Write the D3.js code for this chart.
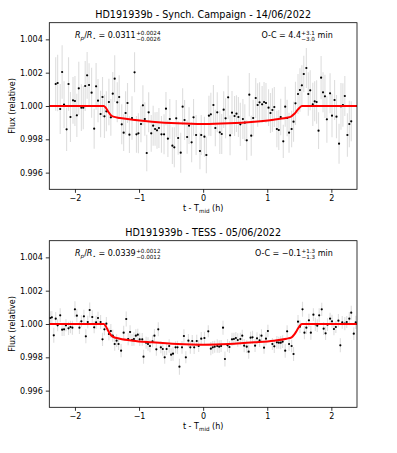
<!DOCTYPE html>
<html>
<head>
<meta charset="utf-8">
<script src="https://cdn.jsdelivr.net/npm/d3@7"></script>
<style>
  html, body { margin: 0; padding: 0; background: #fff; }
  svg { display: block; }
  text { font-family: "DejaVu Sans", sans-serif; fill: #000; }
</style>
</head>
<body>
<svg id="chart" width="397" height="453"></svg>
<script>
// ---------------- DATA ----------------
const xTicks = [-2, -1, 0, 1, 2];
const yTicks = [0.996, 0.998, 1.000, 1.002, 1.004];

// Panel 1: Synch. Campaign
const timeTop = [
  -2.30,-2.27,-2.23,-2.20,-2.17,-2.13,-2.10,-2.07,-2.03,-2.00,
  -1.97,-1.94,-1.90,-1.87,-1.84,-1.81,-1.78,-1.74,-1.70,-1.67,
  -1.64,-1.60,-1.57,-1.54,-1.51,-1.47,-1.44,-1.41,-1.38,-1.34,
  -1.31,-1.27,-1.24,-1.21,-1.18,-1.15,-1.11,-1.07,-1.04,-1.01,
  -0.97,-0.94,-0.91,-0.88,-0.85,-0.81,-0.78,-0.75,-0.72,-0.69,
  -0.65,-0.61,-0.58,-0.55,-0.52,-0.48,-0.45,-0.42,-0.39,-0.35,
  -0.32,-0.29,-0.25,-0.22,-0.18,-0.15,-0.11,-0.05,-0.03,
  0.02,0.05,0.09,0.12,0.16,0.19,0.22,0.26,0.29,0.32,
  0.35,0.39,0.42,0.45,0.49,0.52,0.55,0.58,0.62,0.65,
  0.68,0.72,0.75,0.78,0.82,0.85,0.88,0.92,0.95,0.98,
  1.02,1.05,1.08,1.11,1.15,1.18,1.21,1.25,1.28,1.31,
  1.34,1.38,1.41,1.44,1.48,1.51,1.54,1.57,1.61,1.64,
  1.67,1.71,1.74,1.77,1.80,1.84,1.87,1.90,1.93,1.98,
  2.01,2.05,2.08,2.12,2.15,2.18,2.21,2.25,2.28,2.31
];
const fluxTop = [
  1.00132,1.00138,0.99982,1.00204,1.00008,0.99860,1.00132,0.99934,1.00034,1.00030,
  0.99944,1.00106,0.99990,0.99990,1.00120,1.00184,1.00126,1.00080,0.99864,1.00118,
  1.00032,0.99952,1.00054,0.99938,0.99968,1.00024,0.99932,1.00074,1.00164,1.00022,
  1.00054,0.99890,0.99840,0.99958,1.00018,0.99828,0.99928,1.00202,0.99830,0.99836,
  0.99892,1.00004,0.99922,0.99718,0.99962,0.99836,0.99882,0.99862,0.99854,0.99868,
  0.99830,0.99830,0.99984,0.99804,0.99922,0.99762,0.99752,0.99926,0.99808,0.99720,
  0.99996,0.99916,0.99814,0.99882,0.99782,0.99932,0.99826,0.99730,0.99826,
  0.99816,0.99706,0.99942,0.99950,1.00006,0.99868,0.99962,0.99842,0.99832,0.99978,
  0.99926,1.00052,0.99824,0.99960,0.99940,0.99954,0.99934,0.99890,0.99922,0.99900,
  0.99794,1.00068,0.99822,0.99928,1.00048,1.00006,1.00022,1.00010,1.00024,1.00018,
  0.99990,0.99958,0.99976,0.99994,0.99862,0.99856,0.99934,0.99788,0.99996,0.99928,
  0.99840,0.99862,0.99906,1.00016,1.00072,1.00096,1.00124,1.00192,1.00228,1.00072,
  1.00094,1.00010,1.00028,1.00024,0.99852,1.00170,1.00082,1.00058,0.99920,1.00076,
  0.99942,1.00036,0.99936,0.99774,0.99998,1.00006,1.00060,0.99826,0.99892,0.99908
];
const errTop = [
  0.0016,0.0017,0.0015,0.0016,0.0014,0.0013,0.0016,0.0015,0.0014,0.0015,
  0.0013,0.0016,0.0014,0.0013,0.0015,0.0014,0.0013,0.0015,0.0012,0.0014,
  0.0013,0.0014,0.0012,0.0013,0.0012,0.0014,0.0011,0.0013,0.0014,0.0012,
  0.0013,0.0012,0.0011,0.0013,0.0012,0.0011,0.0013,0.0012,0.0011,0.0012,
  0.0011,0.0012,0.0010,0.0011,0.0012,0.0011,0.0012,0.0010,0.0011,0.0012,
  0.0011,0.0012,0.0010,0.0011,0.0012,0.0011,0.0012,0.0011,0.0010,0.0012,
  0.0011,0.0012,0.0010,0.0011,0.0012,0.0011,0.0012,0.0011,0.0012,
  0.0012,0.0011,0.0012,0.0013,0.0012,0.0011,0.0012,0.0013,0.0012,0.0011,
  0.0012,0.0013,0.0012,0.0013,0.0012,0.0011,0.0012,0.0013,0.0012,0.0011,
  0.0012,0.0013,0.0012,0.0011,0.0012,0.0013,0.0012,0.0011,0.0012,0.0012,
  0.0011,0.0012,0.0013,0.0012,0.0011,0.0012,0.0011,0.0010,0.0012,0.0011,
  0.0012,0.0011,0.0012,0.0013,0.0012,0.0013,0.0012,0.0011,0.0012,0.0013,
  0.0012,0.0013,0.0012,0.0013,0.0011,0.0013,0.0012,0.0013,0.0014,0.0012,
  0.0013,0.0012,0.0013,0.0012,0.0014,0.0013,0.0012,0.0013,0.0014,0.0012
];
const modelTimeTop = [-2.4,-1.55,-1.52,-1.48,-1.44,-1.40,-1.30,-1.10,-0.80,-0.40,0,0.40,0.80,1.10,1.30,1.37,1.42,1.46,1.50,1.54,2.4];
const modelFluxTop = [1.0,1.0,0.99990,0.99965,0.99945,0.99936,0.99928,0.99918,0.99906,0.99896,0.99892,0.99896,0.99906,0.99918,0.99930,0.99936,0.99952,0.99970,0.99988,1.0,1.0];

// Panel 2: TESS
const timeBot = [
  -2.385,-2.36,-2.33,-2.30,-2.27,-2.23,-2.20,-2.17,-2.14,-2.10,
  -2.07,-2.04,-2.00,-1.97,-1.93,-1.90,-1.86,-1.83,-1.80,-1.77,
  -1.73,-1.70,-1.67,-1.64,-1.60,-1.57,-1.54,-1.51,-1.47,-1.44,
  -1.41,-1.38,-1.35,-1.32,-1.28,-1.24,-1.20,-1.17,-1.14,-1.11,
  -1.08,-1.05,-1.02,-0.99,-0.95,-0.93,-0.89,-0.86,-0.83,-0.79,
  -0.76,-0.73,-0.70,-0.66,-0.63,-0.60,-0.57,-0.53,-0.50,-0.47,
  -0.43,-0.40,-0.37,-0.33,-0.30,-0.27,-0.23,-0.20,-0.17,-0.14,
  -0.10,-0.07,-0.03,
  0.02,0.08,0.12,0.15,0.18,0.22,0.25,0.28,0.31,0.34,
  0.38,0.41,0.45,0.48,0.51,0.54,0.58,0.61,0.64,0.68,
  0.71,0.74,0.77,0.81,0.84,0.88,0.91,0.95,0.98,1.01,
  1.08,1.11,1.15,1.18,1.21,1.24,1.28,1.31,1.34,1.38,
  1.41,1.48,1.51,1.55,1.58,1.61,1.65,1.68,1.72,1.75,
  1.78,1.81,1.85,1.88,1.91,1.94,1.98,2.01,2.04,2.07,
  2.11,2.14,2.17,2.21,2.24,2.28,2.31,2.35,2.38
];
const fluxBot = [
  1.00036,1.00040,0.99932,1.00032,0.99992,1.00052,0.99966,0.99968,0.99992,0.99974,
  0.99982,0.99978,1.00088,1.00050,0.99978,1.00016,1.00046,0.99926,1.00012,1.00084,
  1.00042,0.99980,1.00010,1.00036,1.00012,0.99908,0.99968,1.00002,0.99940,0.99958,
  0.99930,0.99880,0.99900,0.99880,0.99840,0.99948,1.00030,0.99910,0.99952,0.99904,
  0.99910,0.99930,0.99936,0.99908,0.99908,0.99804,0.99888,0.99880,0.99868,0.99896,
  0.99930,0.99848,0.99968,0.99860,0.99850,0.99800,0.99850,0.99868,0.99816,0.99822,
  0.99860,0.99860,0.99744,0.99860,0.99928,0.99800,0.99900,0.99860,0.99898,0.99860,
  0.99898,0.99868,0.99912,
  0.99916,0.99956,0.99852,0.99860,0.99864,0.99868,0.99864,0.99868,0.99978,0.99790,
  0.99872,0.99862,0.99908,0.99910,0.99916,0.99904,0.99910,0.99930,0.99870,0.99864,
  0.99834,0.99918,0.99920,0.99870,0.99914,0.99902,0.99930,0.99858,0.99912,0.99958,
  0.99880,0.99866,0.99890,0.99888,0.99888,0.99894,0.99840,0.99956,0.99880,0.99868,
  0.99820,1.00014,0.99984,1.00088,0.99948,0.99978,1.00022,0.99948,1.00056,0.99998,
  0.99990,1.00052,1.00088,0.99972,0.99944,0.99996,1.00032,1.00016,0.99970,0.99982,
  1.00020,0.99872,1.00010,1.00002,1.00012,1.00032,1.00068,0.99942,1.00010
];
const errBot = [
  0.00040,0.00038,0.00045,0.00040,0.00036,0.00042,0.00038,0.00040,0.00036,0.00040,
  0.00038,0.00042,0.00048,0.00040,0.00038,0.00036,0.00040,0.00042,0.00038,0.00045,
  0.00040,0.00036,0.00040,0.00038,0.00042,0.00040,0.00036,0.00040,0.00038,0.00042,
  0.00036,0.00040,0.00038,0.00036,0.00040,0.00042,0.00045,0.00038,0.00040,0.00036,
  0.00040,0.00038,0.00036,0.00040,0.00038,0.00042,0.00036,0.00040,0.00038,0.00036,
  0.00040,0.00038,0.00042,0.00036,0.00040,0.00038,0.00036,0.00040,0.00038,0.00042,
  0.00036,0.00040,0.00048,0.00038,0.00040,0.00036,0.00040,0.00038,0.00036,0.00040,
  0.00038,0.00036,0.00040,
  0.00038,0.00036,0.00040,0.00038,0.00036,0.00040,0.00038,0.00036,0.00042,0.00045,
  0.00038,0.00036,0.00040,0.00038,0.00036,0.00040,0.00038,0.00036,0.00040,0.00038,
  0.00042,0.00036,0.00040,0.00038,0.00036,0.00040,0.00038,0.00036,0.00040,0.00038,
  0.00036,0.00040,0.00038,0.00036,0.00040,0.00038,0.00042,0.00036,0.00040,0.00038,
  0.00042,0.00040,0.00038,0.00045,0.00040,0.00038,0.00040,0.00042,0.00038,0.00040,
  0.00038,0.00042,0.00040,0.00038,0.00040,0.00038,0.00036,0.00040,0.00038,0.00036,
  0.00040,0.00042,0.00038,0.00040,0.00036,0.00040,0.00042,0.00038,0.00040
];
const modelTimeBot = [-2.4,-1.55,-1.52,-1.48,-1.44,-1.40,-1.30,-1.10,-0.80,-0.40,0,0.40,0.80,1.10,1.30,1.38,1.42,1.46,1.50,1.54,2.4];
const modelFluxBot = [1.0,1.0,0.99988,0.99958,0.99934,0.99922,0.99912,0.99900,0.99890,0.99880,0.99876,0.99880,0.99890,0.99900,0.99912,0.99920,0.99936,0.99960,0.99985,1.0,1.0];

const titles = ["HD191939b - Synch. Campaign - 14/06/2022", "HD191939b - TESS - 05/06/2022"];
const rpValues = [["0.0311", "+0.0024", "\u22120.0026"], ["0.0339", "+0.0012", "\u22120.0012"]];
const ocValues = [["4.4", "+3.1", "\u22123.0"], ["\u22120.1", "+1.3", "\u22121.3"]];

// ---------------- DRAW ----------------
const svg = d3.select("#chart");
const X0 = 49.3, X1 = 357;
const panelTops = [22.7, 240.7];
const PH = 166.6;

function drawPanel(i, times, flux, errs, mt, mf) {
  const top = panelTops[i], bottom = top + PH;
  const x = d3.scaleLinear().domain([-2.4, 2.4]).range([X0, X1]);
  const y = d3.scaleLinear().domain([0.995, 1.005]).range([bottom, top]);
  const g = svg.append("g");
  const clipId = "clip" + i;
  svg.append("clipPath").attr("id", clipId).append("rect")
    .attr("x", X0).attr("y", top).attr("width", X1 - X0).attr("height", PH);

  const pts = d3.zip(times, flux, errs);
  const pg = g.append("g").attr("clip-path", `url(#${clipId})`);
  pg.selectAll("line.err").data(pts).join("line").attr("class", "err")
    .attr("x1", d => x(d[0])).attr("x2", d => x(d[0]))
    .attr("y1", d => y(d[1] - d[2])).attr("y2", d => y(d[1] + d[2]))
    .attr("stroke", "#d3d3d3").attr("stroke-opacity", 0.75).attr("stroke-width", 1.1);
  pg.selectAll("circle").data(pts).join("circle")
    .attr("cx", d => x(d[0])).attr("cy", d => y(d[1])).attr("r", 1.1).attr("fill", "#000");
  const line = d3.line().x(d => x(d[0])).y(d => y(d[1])).curve(d3.curveMonotoneX);
  pg.append("path").datum(d3.zip(mt, mf)).attr("d", line)
    .attr("fill", "none").attr("stroke", "#ff0000").attr("stroke-width", 2);

  // axes
  const xa = g.append("g").attr("transform", `translate(0,${bottom})`)
    .call(d3.axisBottom(x).tickValues(xTicks).tickFormat(d3.format("d")).tickSize(3.5).tickPadding(3));
  const ya = g.append("g").attr("transform", `translate(${X0},0)`)
    .call(d3.axisLeft(y).tickValues(yTicks).tickFormat(d3.format(".3f")).tickSize(3.5).tickPadding(3));
  [xa, ya].forEach(a => {
    a.select(".domain").remove();
    a.selectAll("line").attr("stroke", "#000").attr("stroke-width", 0.8);
    a.selectAll("text").attr("font-size", 8).attr("font-family", "DejaVu Sans").attr("fill", "#000");
  });
  g.append("rect").attr("x", X0).attr("y", top).attr("width", X1 - X0).attr("height", PH)
    .attr("fill", "none").attr("stroke", "#000").attr("stroke-width", 0.8);

  // title
  g.append("text").attr("x", (X0 + X1) / 2).attr("y", top - 5).attr("text-anchor", "middle")
    .attr("font-size", 9.6).text(titles[i]);
  // x label
  const xl = g.append("text").attr("x", (X0 + X1) / 2).attr("y", bottom + 22).attr("text-anchor", "middle")
    .attr("font-size", 8);
  xl.append("tspan").text("t - T");
  xl.append("tspan").attr("font-size", 5.6).attr("dy", 1.5).text("mid");
  xl.append("tspan").attr("dy", -1.5).text("\u00a0(h)");
  // y label
  g.append("text").attr("transform", `translate(15,${(top + bottom) / 2}) rotate(-90)`)
    .attr("text-anchor", "middle").attr("font-size", 8).text("Flux (relative)");

  // annotations
  const ay = top + 15.5;
  const rp = g.append("text").attr("x", 75).attr("y", ay).attr("font-size", 8);
  rp.append("tspan").attr("font-style", "italic").text("R");
  rp.append("tspan").attr("font-style", "italic").attr("font-size", 5.6).attr("dy", 1.6).text("p");
  rp.append("tspan").attr("dy", -1.6).text("/");
  rp.append("tspan").attr("font-style", "italic").text("R");
  rp.append("tspan").attr("font-size", 5.6).attr("dy", 1.6).text("\u22c6");
  rp.append("tspan").attr("dy", -1.6).text("\u00a0=\u00a0" + rpValues[i][0]);
  const rpLen = rp.node().getComputedTextLength();
  g.append("text").attr("x", 75 + rpLen + 0.5).attr("y", ay - 3.2).attr("font-size", 5.6).text(rpValues[i][1]);
  g.append("text").attr("x", 75 + rpLen + 0.5).attr("y", ay + 2.3).attr("font-size", 5.6).text(rpValues[i][2]);

  const ocX = i === 0 ? 261.5 : 255;
  const oc = g.append("text").attr("x", ocX).attr("y", ay).attr("font-size", 8).text("O-C\u00a0=\u00a0" + ocValues[i][0]);
  const ocLen = oc.node().getComputedTextLength();
  const s1 = g.append("text").attr("x", ocX + ocLen + 0.3).attr("y", ay - 3.2).attr("font-size", 5.6).text(ocValues[i][1]);
  const s2 = g.append("text").attr("x", ocX + ocLen + 0.3).attr("y", ay + 2.3).attr("font-size", 5.6).text(ocValues[i][2]);
  const sl = Math.max(s1.node().getComputedTextLength(), s2.node().getComputedTextLength());
  g.append("text").attr("x", ocX + ocLen + sl + 3).attr("y", ay).attr("font-size", 8).text("min");
}

drawPanel(0, timeTop, fluxTop, errTop, modelTimeTop, modelFluxTop);
drawPanel(1, timeBot, fluxBot, errBot, modelTimeBot, modelFluxBot);
</script>
</body>
</html>
